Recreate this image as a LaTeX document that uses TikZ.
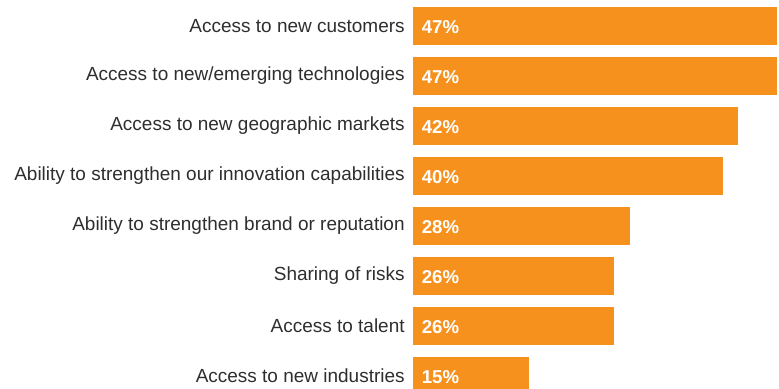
\documentclass[tikz,border=0pt]{standalone}
\usepackage{fontspec}
\setmainfont{Liberation Sans}
\definecolor{barorange}{HTML}{F7911E}
\definecolor{labelgray}{HTML}{2E2E2E}

\begin{document}
\begin{tikzpicture}[
    bar/.style={
        rectangle,
        fill=barorange,
        minimum height=0.76cm,
        inner sep=0pt,
        anchor=west
    },
    lbl/.style={
        anchor=east,
        inner sep=0pt,
        text=labelgray,
        font=\fontsize{10.8}{12}\selectfont
    },
    pct/.style={
        anchor=west,
        inner sep=0pt,
        text=white,
        font=\fontsize{10.6}{12}\selectfont\bfseries
    }
]

\useasboundingbox (0,0) rectangle (15.58,7.76);
\clip (0,0) rectangle (15.58,7.76);

\foreach \p/\t [count=\i from 0] in {
    47/{Access to new customers},
    47/{Access to new/emerging technologies},
    42/{Access to new geographic markets},
    40/{Ability to strengthen our innovation capabilities},
    28/{Ability to strengthen brand or reputation},
    26/{Sharing of risks},
    26/{Access to talent},
    15/{Access to new industries}} {
    \pgfmathsetmacro{\y}{7.24-\i}
    \node[bar, minimum width={\p*0.1546cm}] (bar\i) at (8.26,\y) {};
    \node[lbl] (lbl\i) at (8.1,\y) {\t};
    \node[pct] (pct\i) at ([xshift=0.17cm,yshift=-0.03cm]bar\i.west) {\p\%};
}

\end{tikzpicture}
\end{document}
